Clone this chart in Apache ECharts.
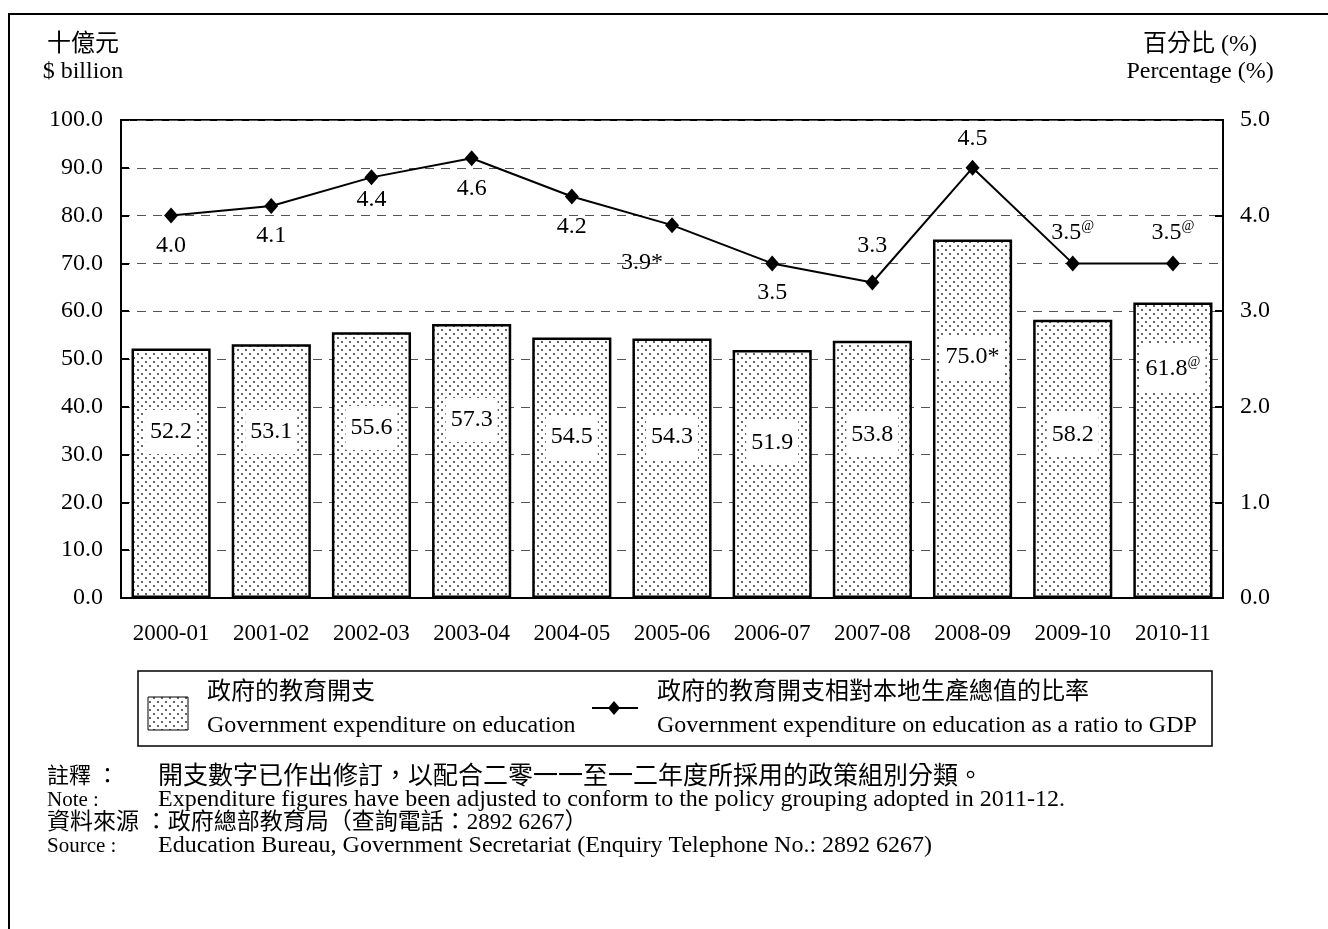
<!DOCTYPE html>
<html>
<head>
<meta charset="utf-8">
<script src="https://cdn.jsdelivr.net/npm/echarts@6/dist/echarts.min.js"></script>
<style>
html, body { margin: 0; padding: 0; background: #fff; }
#main { width: 1328px; height: 929px; }
</style>
</head>
<body>
<div id="main"></div>
<script>
// 數據
var years = ['2000-01', '2001-02', '2002-03', '2003-04', '2004-05', '2005-06',
    '2006-07', '2007-08', '2008-09', '2009-10', '2010-11'];
var spending = [52.2, 53.1, 55.6, 57.3, 54.5, 54.3, 51.9, 53.8, 75.0, 58.2, 61.8];
var spendingMark = ['', '', '', '', '', '', '', '', '*', '', '@'];
var ratio = [4.0, 4.1, 4.4, 4.6, 4.2, 3.9, 3.5, 3.3, 4.5, 3.5, 3.5];
var ratioMark = ['', '', '', '', '', '*', '', '', '', '@', '@'];

// 標籤位置 (像素)
var barLabelLift = [144, 144, 148, 156, 139, 139, 133, 141, 219, 141, 206];
var lineLabelPlace = [
    ['bottom', 10, 0], ['bottom', 10, 0], ['bottom', 2, 0], ['bottom', 10, 0],
    ['bottom', 10, 0], ['bottom', 18, -30], ['bottom', 9, 0], ['top', 17, 0],
    ['top', 9, 0], ['top', 9, 0], ['top', 9, 0]
];

var FONT = "'Liberation Serif', 'Noto Sans CJK TC', serif";

function dotPattern() {
    var c = document.createElement('canvas');
    c.width = 8; c.height = 8;
    var ctx = c.getContext('2d');
    ctx.fillStyle = '#fff';
    ctx.fillRect(0, 0, 8, 8);
    ctx.fillStyle = '#333';
    ctx.beginPath(); ctx.arc(2, 2, 1, 0, Math.PI * 2); ctx.fill();
    ctx.beginPath(); ctx.arc(6, 6, 1, 0, Math.PI * 2); ctx.fill();
    return { image: c, repeat: 'repeat' };
}
var pattern = dotPattern();

var rich = {
    b: { fontFamily: FONT, fontSize: 24, color: '#000' },
    s: { fontFamily: FONT, fontSize: 14, color: '#000', padding: [0, 0, 13, 0] }
};

function fmt(v, mark) {
    var s = '{b|' + v.toFixed(1);
    if (mark === '*') return s + '*}';
    if (mark === '@') return s + '}{s|@}';
    return s + '}';
}

function txt(text, x, y, align, size) {
    return {
        type: 'text', silent: true,
        style: {
            text: text, x: x, y: y, fill: '#000',
            font: (size || 24) + 'px ' + FONT,
            textAlign: align || 'left', textVerticalAlign: 'middle'
        }
    };
}

var chart = echarts.init(document.getElementById('main'));

var option = {
    backgroundColor: '#fff',
    animation: false,
    grid: {
        left: 121, right: 105, top: 120, bottom: 331,
        show: true, borderColor: '#000', borderWidth: 2, backgroundColor: 'transparent'
    },
    xAxis: {
        type: 'category',
        data: years,
        axisLine: { lineStyle: { color: '#000', width: 2 } },
        axisTick: { show: false },
        axisLabel: { color: '#000', fontFamily: FONT, fontSize: 23, margin: 24 }
    },
    yAxis: [
        {
            type: 'value', min: 0, max: 100, interval: 10,
            axisLine: { show: true, lineStyle: { color: '#000', width: 2 } },
            axisTick: { show: true, inside: true, length: 8, lineStyle: { color: '#000', width: 2 } },
            axisLabel: {
                color: '#000', fontFamily: FONT, fontSize: 24, margin: 18,
                formatter: function (v) { return v.toFixed(1); }
            },
            splitLine: { show: true, lineStyle: { color: '#555', type: [9, 7], width: 1 } }
        },
        {
            type: 'value', min: 0, max: 5, interval: 1,
            axisLine: { show: true, lineStyle: { color: '#000', width: 2 } },
            axisTick: { show: true, inside: true, length: 8, lineStyle: { color: '#000', width: 2 } },
            axisLabel: {
                color: '#000', fontFamily: FONT, fontSize: 24, margin: 17,
                formatter: function (v) { return v.toFixed(1); }
            },
            splitLine: { show: false }
        }
    ],
    series: [
        {
            name: '政府的教育開支',
            type: 'bar',
            barCategoryGap: '21%',
            itemStyle: { color: pattern, borderColor: '#000', borderWidth: 2.5 },
            data: spending.map(function (v, i) {
                return {
                    value: v,
                    label: { distance: barLabelLift[i] }
                };
            }),
            label: {
                show: true,
                position: 'insideBottom',
                backgroundColor: '#fff',
                padding: [10, 5, 10, 5],
                rich: rich,
                formatter: function (p) { return fmt(p.value, spendingMark[p.dataIndex]); }
            },
            z: 2
        },
        {
            name: '政府的教育開支相對本地生產總值的比率',
            type: 'line',
            yAxisIndex: 1,
            symbol: 'diamond',
            symbolSize: [14, 16],
            lineStyle: { color: '#000', width: 2 },
            itemStyle: { color: '#000' },
            data: ratio.map(function (v, i) {
                var pl = lineLabelPlace[i];
                return {
                    value: v,
                    label: { position: pl[0], distance: pl[1], offset: [pl[2], 0] }
                };
            }),
            label: {
                show: true,
                rich: rich,
                formatter: function (p) { return fmt(p.value, ratioMark[p.dataIndex]); }
            },
            z: 3
        }
    ],
    graphic: [
        // 外框
        {
            type: 'rect', silent: true,
            shape: { x: 9, y: 14, width: 1340, height: 940 },
            style: { fill: 'none', stroke: '#000', lineWidth: 2 }
        },
        // 軸標題
        txt('十億元', 83, 45, 'center'),
        txt('$ billion', 83, 72, 'center'),
        txt('百分比 (%)', 1200, 45, 'center'),
        txt('Percentage (%)', 1200, 72, 'center'),
        // 圖例
        {
            type: 'rect', silent: true,
            shape: { x: 138, y: 671, width: 1074, height: 75 },
            style: { fill: '#fff', stroke: '#000', lineWidth: 1.5 }
        },
        {
            type: 'rect', silent: true,
            shape: { x: 148, y: 697, width: 40, height: 33 },
            style: { fill: pattern, stroke: '#000', lineWidth: 1 }
        },
        txt('政府的教育開支', 207, 693),
        txt('Government expenditure on education', 207, 726),
        {
            type: 'line', silent: true,
            shape: { x1: 592, y1: 708, x2: 638, y2: 708 },
            style: { stroke: '#000', lineWidth: 2 }
        },
        {
            type: 'polygon', silent: true,
            shape: { points: [[614, 701], [620, 708], [614, 715], [608, 708]] },
            style: { fill: '#000' }
        },
        txt('政府的教育開支相對本地生產總值的比率', 657, 693),
        txt('Government expenditure on education as a ratio to GDP', 657, 726),
        // 註釋及資料來源
        txt('註釋 ：', 47, 777, 'left', 22),
        txt('開支數字已作出修訂，以配合二零一一至一二年度所採用的政策組別分類。', 158, 777, 'left', 25),
        txt('Note :', 47, 800, 'left', 21),
        txt('Expenditure figures have been adjusted to conform to the policy grouping adopted in 2011-12.', 158, 800, 'left', 24),
        txt('資料來源 ：政府總部教育局（查詢電話：2892 6267）', 47, 823, 'left', 23),
        txt('Source :', 47, 846, 'left', 21),
        txt('Education Bureau, Government Secretariat (Enquiry Telephone No.: 2892 6267)', 158, 846, 'left', 24)
    ]
};

chart.setOption(option);
</script>
</body>
</html>
